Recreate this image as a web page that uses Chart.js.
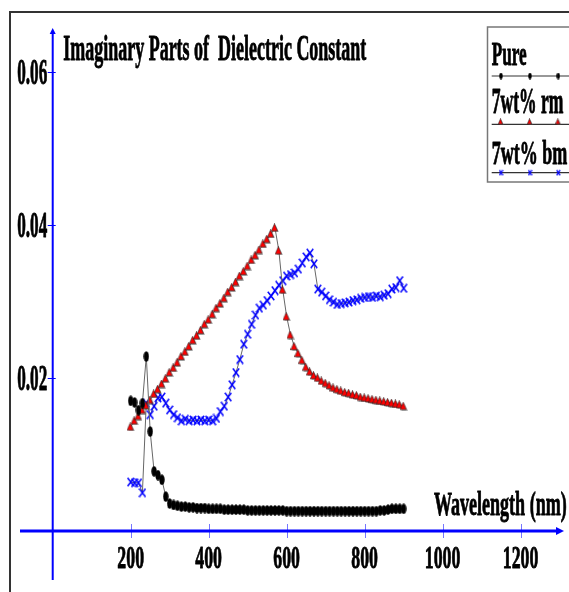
<!DOCTYPE html>
<html>
<head>
<meta charset="utf-8">
<script src="https://cdn.jsdelivr.net/npm/chart.js@4"></script>
<style>
  html, body { margin: 0; padding: 0; background: #fff; }
  #wrap { width: 569px; height: 592px; position: relative; }
</style>
</head>
<body>
<div id="wrap"><canvas id="chart" width="569" height="592"></canvas></div>
<script>
/* Imaginary part of dielectric constant vs wavelength, three samples. */

const wavelength = [
  200, 210, 220, 230, 240, 250, 260, 270, 280, 290,
  300, 310, 320, 330, 340, 350, 360, 370, 380, 390,
  400, 410, 420, 430, 440, 450, 460, 470, 480, 490,
  500, 510, 520, 530, 540, 550, 560, 570, 580, 590,
  600, 610, 620, 630, 640, 650, 660, 670, 680, 690,
  700, 710, 720, 730, 740, 750, 760, 770, 780, 790,
  800, 810, 820, 830, 840, 850, 860, 870, 880, 890,
  900
];

const pure = [
  0.0170, 0.0168, 0.0158, 0.0167, 0.0228, 0.0130, 0.0078, 0.0073, 0.0067, 0.0045,
  0.0036, 0.0034, 0.0033, 0.0032, 0.0032, 0.0031, 0.0031, 0.0030, 0.0030, 0.0030,
  0.0029, 0.0029, 0.0029, 0.0029, 0.0028, 0.0028, 0.0028, 0.0028, 0.0028, 0.0028,
  0.0027, 0.0027, 0.0027, 0.0027, 0.0027, 0.0027, 0.0027, 0.0027, 0.0027, 0.0027,
  0.0026, 0.0026, 0.0026, 0.0026, 0.0026, 0.0026, 0.0026, 0.0026, 0.0026, 0.0026,
  0.0026, 0.0026, 0.0026, 0.0026, 0.0026, 0.0026, 0.0026, 0.0026, 0.0026, 0.0026,
  0.0026, 0.0026, 0.0026, 0.0026, 0.0027, 0.0027, 0.0028, 0.0029, 0.0029, 0.0029,
  0.0029
];

const rm7 = [
  0.0136, 0.0144, 0.0150, 0.0158, 0.0164, 0.0171, 0.0179, 0.0185, 0.0192, 0.0199,
  0.0207, 0.0213, 0.0220, 0.0228, 0.0234, 0.0241, 0.0249, 0.0255, 0.0262, 0.0270,
  0.0276, 0.0283, 0.0291, 0.0297, 0.0304, 0.0312, 0.0318, 0.0325, 0.0333, 0.0339,
  0.0346, 0.0354, 0.0360, 0.0367, 0.0375, 0.0381, 0.0388, 0.0396, 0.0366, 0.0315,
  0.0280, 0.0256, 0.0241, 0.0232, 0.0223, 0.0214, 0.0208, 0.0203, 0.0200, 0.0196,
  0.0193, 0.0190, 0.0187, 0.0185, 0.0183, 0.0181, 0.0180, 0.0178, 0.0177, 0.0175,
  0.0174, 0.0173, 0.0172, 0.0171, 0.0170, 0.0169, 0.0168, 0.0167, 0.0166, 0.0165,
  0.0163
];

const bm7 = [
  0.0064, 0.0063, 0.0063, 0.0050, 0.0167, 0.0152, 0.0163, 0.0174, 0.0175, 0.0167,
  0.0158, 0.0152, 0.0148, 0.0144, 0.0146, 0.0144, 0.0145, 0.0144, 0.0145, 0.0144,
  0.0145, 0.0144, 0.0147, 0.0156, 0.0163, 0.0175, 0.0191, 0.0207, 0.0224, 0.0244,
  0.0257, 0.0270, 0.0282, 0.0291, 0.0295, 0.0301, 0.0307, 0.0314, 0.0321, 0.0327,
  0.0333, 0.0335, 0.0337, 0.0342, 0.0350, 0.0358, 0.0363, 0.0349, 0.0316, 0.0312,
  0.0307, 0.0302, 0.0299, 0.0296, 0.0297, 0.0298, 0.0299, 0.0301, 0.0302, 0.0304,
  0.0305, 0.0306, 0.0305, 0.0307, 0.0306, 0.0308, 0.0310, 0.0316, 0.0318, 0.0327,
  0.0317
];

const seriesNames = ['Pure', '7wt% rm', '7wt% bm'];
const xTicks = [200, 400, 600, 800, 1000, 1200];
const yTicks = [0.02, 0.04, 0.06];
const yTickLabels = ['0.02', '0.04', '0.06'];
const titleText = 'Imaginary Parts of  Dielectric Constant';
const xTitle = 'Wavelength (nm)';

const SERIF = '"Liberation Serif", "Times New Roman", serif';
const BLUE = '#0000ff';

// small canvases used as point markers (the picture is stretched vertically)
function makeMarker(w, h, draw) {
  const c = document.createElement('canvas');
  c.width = w; c.height = h;
  draw(c.getContext('2d'), w, h);
  return c;
}
function dot(w, h) {
  return makeMarker(w, h, (g) => {
    g.fillStyle = '#000';
    g.beginPath();
    g.ellipse(w / 2, h / 2, w / 2 - 0.3, h / 2 - 0.3, 0, 0, Math.PI * 2);
    g.fill();
  });
}
function tri(w, h) {
  return makeMarker(w, h, (g) => {
    // soft grey shadow, then the red triangle
    g.fillStyle = 'rgba(90,90,90,0.45)';
    g.beginPath();
    g.moveTo(w / 2 + 0.5, 1.5);
    g.lineTo(w, h);
    g.lineTo(1.5, h);
    g.closePath();
    g.fill();
    g.fillStyle = '#ff0000';
    g.strokeStyle = '#222';
    g.lineWidth = 0.6;
    g.beginPath();
    g.moveTo(w / 2 - 0.5, 0.4);
    g.lineTo(w - 1.3, h - 1.2);
    g.lineTo(0.3, h - 1.2);
    g.closePath();
    g.fill();
    g.stroke();
  });
}
function cross(w, h, lw) {
  return makeMarker(w, h, (g) => {
    g.strokeStyle = BLUE;
    g.lineWidth = lw;
    g.beginPath();
    g.moveTo(0.8, 0.8); g.lineTo(w - 0.8, h - 0.8);
    g.moveTo(w - 0.8, 0.8); g.lineTo(0.8, h - 0.8);
    g.stroke();
  });
}

const markers = [dot(6, 11), tri(8, 9), cross(8, 10, 1.5)];
const legendMarkers = [dot(4, 7), tri(6, 7), cross(5, 7, 1.3)];

function pts(vals) {
  return vals.map((v, i) => ({ x: wavelength[i], y: v }));
}

// heavy bold serif squeezed horizontally, like the original
function squeezeText(ctx, str, x, baseline, size, opts) {
  ctx.save();
  ctx.font = `bold ${size}px ${SERIF}`;
  const w = ctx.measureText(str).width;
  const sx = opts.width ? opts.width / w : opts.sx;
  const drawn = w * sx;
  let x0 = x;
  if (opts.align === 'right') x0 = x - drawn;
  else if (opts.align === 'center') x0 = x - drawn / 2;
  ctx.translate(x0, baseline);
  ctx.scale(sx, 1);
  ctx.fillStyle = '#000';
  ctx.strokeStyle = '#000';
  ctx.lineWidth = 0.9;
  ctx.lineJoin = 'round';
  ctx.textAlign = 'left';
  ctx.textBaseline = 'alphabetic';
  ctx.fillText(str, 0, 0);
  ctx.strokeText(str, 0, 0);
  ctx.restore();
}

const axesPlugin = {
  id: 'mapleAxes',
  beforeDatasetsDraw(chart) {
    const { ctx, chartArea: a } = chart;
    const xs = chart.scales.x, ys = chart.scales.y;
    const x0 = xs.getPixelForValue(0);
    const y0 = ys.getPixelForValue(0);
    ctx.save();

    // page frame
    ctx.strokeStyle = '#333';
    ctx.lineWidth = 2;
    ctx.beginPath();
    ctx.moveTo(10, 600); ctx.lineTo(10, 12); ctx.lineTo(580, 12);
    ctx.stroke();

    // ticks
    ctx.strokeStyle = 'rgba(60,60,255,0.7)';
    ctx.lineWidth = 1;
    for (const t of xTicks) {
      const px = Math.round(xs.getPixelForValue(t)) + 0.5;
      ctx.beginPath(); ctx.moveTo(px, y0 - 7); ctx.lineTo(px, y0 + 7); ctx.stroke();
    }
    ctx.strokeStyle = BLUE;
    for (const t of yTicks) {
      const py = Math.round(ys.getPixelForValue(t)) + 0.5;
      ctx.beginPath(); ctx.moveTo(x0 - 5, py); ctx.lineTo(x0 + 3, py); ctx.stroke();
    }

    // axis lines with arrow heads
    ctx.strokeStyle = BLUE;
    ctx.fillStyle = BLUE;
    ctx.lineWidth = 3;
    ctx.beginPath(); ctx.moveTo(a.left, y0); ctx.lineTo(a.right - 5, y0); ctx.stroke();
    ctx.beginPath();
    ctx.moveTo(a.right, y0); ctx.lineTo(a.right - 8, y0 - 4); ctx.lineTo(a.right - 8, y0 + 4);
    ctx.closePath(); ctx.fill();

    ctx.lineWidth = 2;
    ctx.beginPath(); ctx.moveTo(x0, a.bottom); ctx.lineTo(x0, a.top + 5); ctx.stroke();
    ctx.beginPath();
    ctx.moveTo(x0, a.top); ctx.lineTo(x0 - 3, a.top + 6); ctx.lineTo(x0 + 3, a.top + 6);
    ctx.closePath(); ctx.fill();
    ctx.restore();
  },
  afterDraw(chart) {
    const { ctx } = chart;
    const xs = chart.scales.x, ys = chart.scales.y;
    const x0 = xs.getPixelForValue(0);

    xTicks.forEach((t) => {
      squeezeText(ctx, String(t), xs.getPixelForValue(t), 568, 32, { sx: 0.556, align: 'center' });
    });
    yTicks.forEach((t, i) => {
      squeezeText(ctx, yTickLabels[i], x0 - 5.5, ys.getPixelForValue(t) + 12, 35, { sx: 0.49, align: 'right' });
    });

    squeezeText(ctx, titleText, 63.3, 60, 36, { width: 303 });
    squeezeText(ctx, xTitle, 434, 515, 34, { width: 132.7 });

    // legend box
    ctx.save();
    ctx.strokeStyle = '#777';
    ctx.lineWidth = 1.5;
    ctx.strokeRect(487.5, 27, 120, 155);
    ctx.restore();

    const rows = [
      { base: 65, size: 33, width: 35, lineY: 76, off: 0 },
      { base: 113.3, size: 35, width: 71.7, lineY: 124.3, off: -2.5 },
      { base: 164, size: 34, width: 75.6, lineY: 172.7, off: 0 },
    ];
    rows.forEach((r, i) => {
      squeezeText(ctx, seriesNames[i], 491.7, r.base, r.size, { width: r.width });
      ctx.save();
      ctx.strokeStyle = '#333';
      ctx.lineWidth = 1.2;
      ctx.beginPath(); ctx.moveTo(491.7, r.lineY); ctx.lineTo(569, r.lineY); ctx.stroke();
      const m = legendMarkers[i];
      [501, 530, 558.3].forEach((mx) => {
        ctx.drawImage(m, mx - m.width / 2, r.lineY + r.off - m.height / 2);
      });
      ctx.restore();
    });
  },
};

const mk = (i, vals) => ({
  label: seriesNames[i],
  data: pts(vals),
  borderColor: '#666',
  borderWidth: 1,
  pointStyle: markers[i],
  pointRadius: 4,
  pointHoverRadius: 4,
  tension: 0,
  fill: false,
});

new Chart(document.getElementById('chart'), {
  type: 'line',
  data: {
    datasets: [mk(0, pure), mk(1, rm7), mk(2, bm7)],
  },
  options: {
    responsive: false,
    animation: false,
    events: [],
    layout: { padding: { left: 20, right: 0, top: 28, bottom: 12 } },
    plugins: { legend: { display: false }, tooltip: { enabled: false } },
    scales: {
      x: { type: 'linear', min: -83.9, max: 1311.3, display: false },
      y: { type: 'linear', min: -0.0064, max: 0.0657, display: false },
    },
  },
  plugins: [axesPlugin],
});
</script>
</body>
</html>
